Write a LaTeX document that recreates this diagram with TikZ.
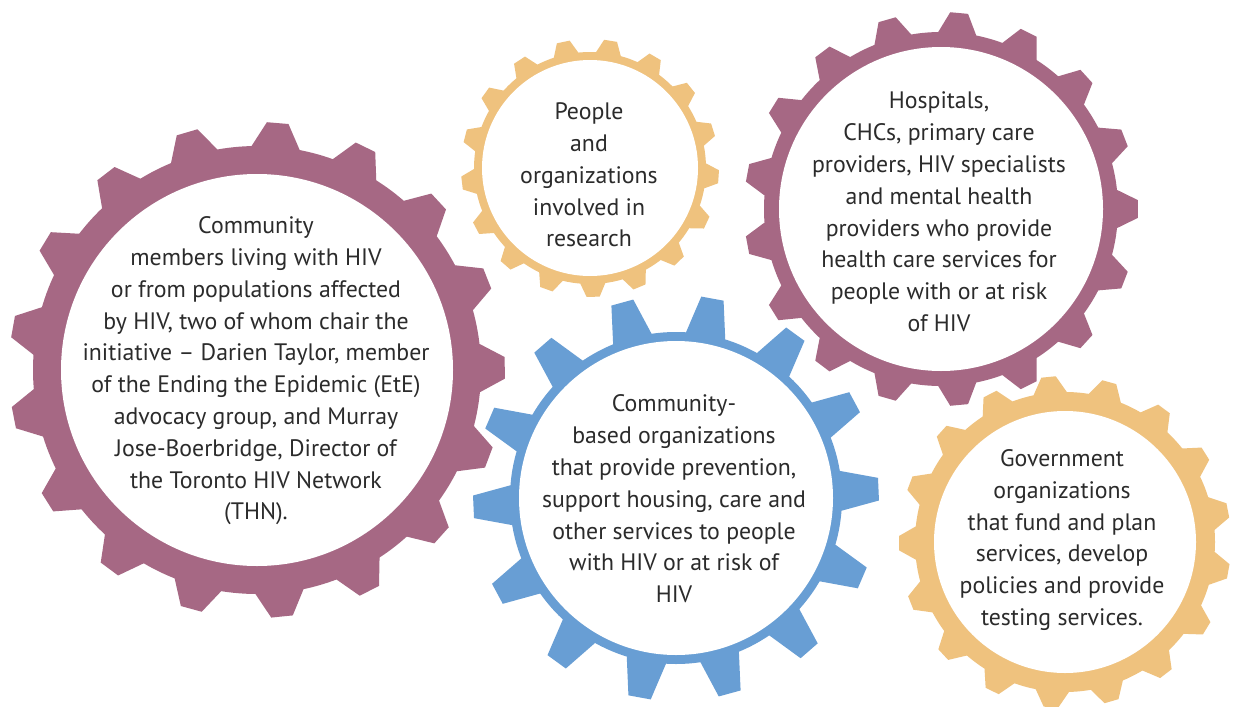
\documentclass[tikz,border=0pt]{standalone}
\usepackage{fontspec}
\setmainfont{PT Sans}
\definecolor{gpurple}{HTML}{A66884}
\definecolor{gyellow}{HTML}{EFC27E}
\definecolor{gblue}{HTML}{689ED4}
\definecolor{txtcol}{HTML}{2B2B2B}
\pgfkeys{/gear/.cd,
  n/.store in=\gN, off/.store in=\gOff, ri/.store in=\gRi,
  rb/.store in=\gRb, rt/.store in=\gRt, hb/.store in=\gHb, ht/.store in=\gHt}
\newcommand{\drawgear}[3]{%
  \pgfkeys{/gear/.cd,#3}%
  \pgfmathsetmacro{\gRbi}{\gRb-3}%
  \fill[#2] (#1) circle (\gRb pt);
  \foreach \k in {1,...,\gN}{%
    \pgfmathsetmacro{\ga}{\gOff+(\k-1)*360/\gN}%
    \fill[#2,shift={(#1)}] (\ga-\gHb:\gRbi pt) -- (\ga-\gHb:\gRb pt) -- (\ga-\gHt:\gRt pt)
      -- (\ga+\gHt:\gRt pt) -- (\ga+\gHb:\gRb pt) -- (\ga+\gHb:\gRbi pt) -- cycle;
  }
  \fill[white] (#1) circle (\gRi pt);
}
\tikzset{
  gtext/.style={align=center, text=txtcol, inner sep=0pt,
    font=\fontsize{23.8}{31.8}\selectfont}
}
\begin{document}
\begin{tikzpicture}[x=1pt,y=-1pt]
\useasboundingbox (0,0) rectangle (1240,707);
\fill[white] (0,0) rectangle (1240,707);
\coordinate (c1) at (257,370);
\coordinate (c2) at (590,168);
\coordinate (c3) at (941,209);
\coordinate (c4) at (676,498);
\coordinate (c5) at (1065,542);
\drawgear{c1}{gpurple}{n=17,off=0.5,ri=196,rb=224,rt=248,hb=6.2,ht=2.5}
\drawgear{c2}{gyellow}{n=17,off=-3.9,ri=108,rb=116,rt=129,hb=6.2,ht=2.9}
\drawgear{c3}{gpurple}{n=17,off=0,ri=162,rb=177,rt=197,hb=6.2,ht=2.6}
\drawgear{c4}{gblue}{n=14,off=2.5,ri=157,rb=166,rt=203,hb=6.9,ht=3.2}
\drawgear{c5}{gyellow}{n=17,off=11,ri=131,rb=150,rt=166,hb=6.4,ht=2.5}
\node[gtext] (t1) at (256,371) {Community\\ members living with HIV\\ or from populations affected\\ by HIV, two of whom chair the\\ initiative -- Darien Taylor, member\\ of the Ending the Epidemic (EtE)\\ advocacy group, and Murray\\ Jose-Boerbridge, Director of\\ the Toronto HIV Network\\ (THN).};
\node[gtext] (t2) at (589,175) {People\\ and\\ organizations\\ involved in\\ research};
\node[gtext] (t3) at (939,212) {Hospitals,\\ CHCs, primary care\\ providers, HIV specialists\\ and mental health\\ providers who provide\\ health care services for\\ people with or at risk\\ of HIV};
\node[gtext] (t4) at (674,499) {Community-\\ based organizations\\ that provide prevention,\\ support housing, care and\\ other services to people\\ with HIV or at risk of\\ HIV};
\node[gtext] (t5) at (1062,540) {Government\\ organizations\\ that fund and plan\\ services, develop\\ policies and provide\\ testing services.};
\end{tikzpicture}
\end{document}
